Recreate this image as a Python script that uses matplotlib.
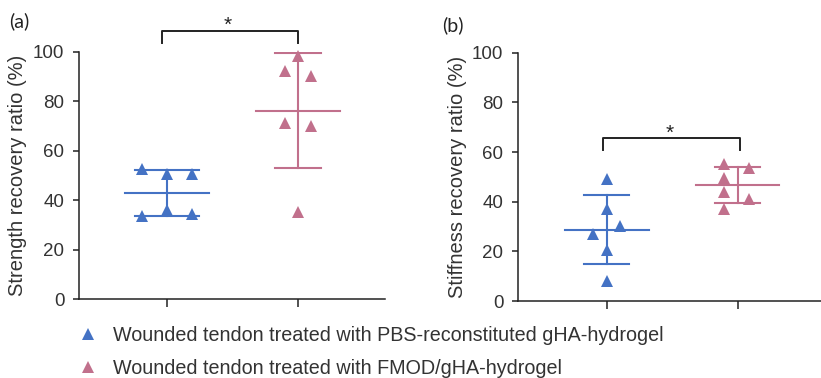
import numpy as np
import matplotlib.pyplot as plt
from matplotlib.lines import Line2D

plt.rcParams['font.family'] = ['Liberation Sans', 'DejaVu Sans']

blue = '#4472C4'
pink = '#C1708C'

# (a) сила
strength_pbs = [52.6, 50.6, 50.6, 33.6, 36.0, 34.3]
strength_pbs_dx = [-0.19, 0.0, 0.19, -0.19, 0.0, 0.19]
strength_fmod = [98.3, 92.3, 90.3, 71.1, 70.0, 35.1]
strength_fmod_dx = [0.0, -0.1, 0.1, -0.1, 0.1, 0.0]

# (b) жесткость
stiff_pbs = [49.0, 36.9, 30.3, 27.0, 20.5, 8.2]
stiff_pbs_dx = [0.0, 0.0, 0.1, -0.1, 0.0, 0.0]
stiff_fmod = [55.0, 53.7, 49.7, 43.8, 41.1, 37.1]
stiff_fmod_dx = [-0.1, 0.09, -0.1, -0.1, 0.09, -0.1]

labels = ['Wounded tendon treated with PBS-reconstituted gHA-hydrogel',
          'Wounded tendon treated with FMOD/gHA-hydrogel']
ylabels = ['Strength recovery ratio (%)', 'Stiffness recovery ratio (%)']
yticks = [0, 20, 40, 60, 80, 100]

fig = plt.figure(figsize=(8.21, 3.78), dpi=100)
ax1 = fig.add_axes([0.0962, 0.2082, 0.3727, 0.655])
ax2 = fig.add_axes([0.631, 0.2037, 0.369, 0.6569])


def draw_group(ax, pos, vals, dx, color, cap_half):
    vals = np.array(vals)
    m = vals.mean()
    sd = vals.std(ddof=1)
    ax.plot([pos - 0.32, pos + 0.32], [m, m], color=color, lw=1.5, zorder=2)
    ax.plot([pos, pos], [m - sd, m + sd], color=color, lw=1.5, zorder=2)
    for y in (m - sd, m + sd):
        ax.plot([pos - cap_half, pos + cap_half], [y, y], color=color, lw=1.5, zorder=2)
    ax.plot(pos + np.array(dx), vals, '^', color=color, ms=8, mew=0,
            linestyle='none', zorder=3, clip_on=False)


def style_axis(ax, ylabel, xlim):
    ax.set_xlim(*xlim)
    ax.set_ylim(0, 100)
    ax.set_yticks(yticks)
    ax.set_xticks([1, 2])
    ax.set_xticklabels(['', ''])
    for s in ['top', 'right']:
        ax.spines[s].set_visible(False)
    for s in ['left', 'bottom']:
        ax.spines[s].set_linewidth(1.1)
        ax.spines[s].set_color('#222222')
    ax.tick_params(axis='y', length=4.5, width=1.1, pad=6, labelsize=13.5,
                   colors='#222222', labelcolor='#333333')
    ax.tick_params(axis='x', length=6, width=1.1, colors='#222222')
    ax.set_ylabel(ylabel, fontsize=14.5, color='#333333', labelpad=4)


draw_group(ax1, 1, strength_pbs, strength_pbs_dx, blue, 0.245)
draw_group(ax1, 2, strength_fmod, strength_fmod_dx, pink, 0.175)
draw_group(ax2, 1, stiff_pbs, stiff_pbs_dx, blue, 0.17)
draw_group(ax2, 2, stiff_fmod, stiff_fmod_dx, pink, 0.17)

style_axis(ax1, ylabels[0], (0.328, 2.664))
style_axis(ax2, ylabels[1], (0.324, 2.637))

# значимость
ax1.plot([0.96, 0.96, 2.0, 2.0], [103.6, 108.4, 108.4, 103.6], color='#222222',
         lw=1.4, clip_on=False)
ax1.text(1.463, 110.5, '*', ha='center', va='center', fontsize=15, color='#222222')
ax2.plot([0.976, 0.976, 2.02, 2.02], [60.8, 65.5, 65.5, 60.8], color='#222222',
         lw=1.4, clip_on=False)
ax2.text(1.478, 67.6, '*', ha='center', va='center', fontsize=15, color='#222222')

fig.text(0.011, 0.945, '(a)', fontsize=14, family=['Lato', 'DejaVu Sans'],
         ha='left', va='center', color='#222222')
fig.text(0.539, 0.934, '(b)', fontsize=14, family=['Lato', 'DejaVu Sans'],
         ha='left', va='center', color='#222222')

handles = [Line2D([], [], marker='^', color=c, ms=8, mew=0, linestyle='none')
           for c in (blue, pink)]
fig.legend(handles, labels, loc='center left', bbox_to_anchor=(0.083, 0.068),
           frameon=False, fontsize=14.2, labelspacing=0.72, handletextpad=0.75,
           handlelength=1.0, borderpad=0, labelcolor='#333333')

fig.savefig('out.png', dpi=100)
